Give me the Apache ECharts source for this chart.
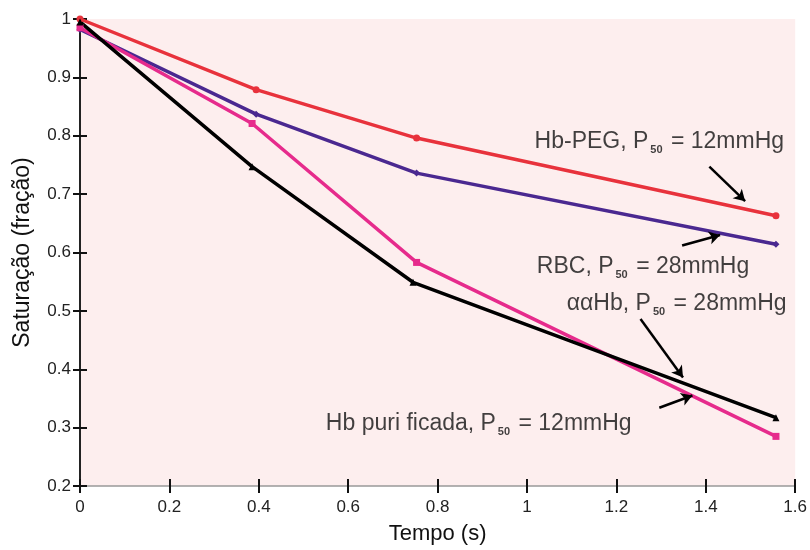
<!DOCTYPE html>
<html>
<head>
<meta charset="utf-8">
<script src="https://cdn.jsdelivr.net/npm/echarts@6/dist/echarts.min.js"></script>
<style>
  html, body { margin: 0; padding: 0; background: #fff; }
  #chart { width: 810px; height: 550px; }
</style>
</head>
<body>
<div id="chart"></div>
<script>
// curves: [tempo (s), saturação]
const hbPeg = [[0, 1.0], [0.394, 0.879], [0.753, 0.796], [1.557, 0.663]];
const rbc = [[0, 0.982], [0.394, 0.837], [0.753, 0.736], [1.557, 0.614]];
const aaHb = [[0, 0.985], [0.385, 0.821], [0.753, 0.583], [1.557, 0.285]];
const hbPur = [[0, 0.995], [0.385, 0.747], [0.745, 0.549], [1.557, 0.317]];

// annotation anchors (data coords) and their texts
const noteAnchors = [[1.017, 0.79], [1.022, 0.575], [1.089, 0.512], [0.55, 0.307]];
const noteTexts = [
  ["Hb-PEG, P", "50", " = 12mmHg"],
  ["RBC, P", "50", " = 28mmHg"],
  ["\u03b1\u03b1Hb, P", "50", " = 28mmHg"],
  ["Hb puri ficada, P", "50", " = 12mmHg"]
];
// arrows: [from, to]
const arrows = [
  [[1.408, 0.747], [1.488, 0.688]],
  [[1.347, 0.612], [1.432, 0.630]],
  [[1.254, 0.486], [1.349, 0.386]],
  [[1.296, 0.334], [1.370, 0.355]]
];

const xTicks = { min: 0, max: 1.6, interval: 0.2 };
const yTicks = { min: 0.2, max: 1, interval: 0.1 };

const font = "Liberation Sans, Arial, sans-serif";
const chart = echarts.init(document.getElementById("chart"));

function curve(name, data, color, symbol) {
  return {
    name: name,
    type: "line",
    data: data,
    symbol: symbol,
    symbolSize: 7,
    lineStyle: { color: color, width: 3.5 },
    itemStyle: { color: color },
    animation: false
  };
}

const option = {
  animation: false,
  grid: {
    left: 80, right: 13, top: 19, bottom: 59,
    show: true, backgroundColor: "#fdeeee", borderWidth: 0
  },
  xAxis: [
    {
      type: "value", ...xTicks, position: "bottom",
      name: "Tempo (s)", nameLocation: "middle", nameGap: 37,
      nameTextStyle: { fontFamily: font, fontSize: 22, color: "#111" },
      axisLine: { lineStyle: { color: "#999", width: 1.5 } },
      axisTick: { inside: false, length: 7, lineStyle: { color: "#111", width: 2 } },
      axisLabel: {
        fontFamily: font, fontSize: 17, color: "#222", margin: 13,
        formatter: (v) => String(+v.toFixed(1))
      },
      splitLine: { show: false }
    },
    {
      type: "value", ...xTicks, position: "bottom",
      axisLine: { show: false },
      axisTick: { inside: true, length: 7, lineStyle: { color: "#111", width: 2 } },
      axisLabel: { show: false },
      splitLine: { show: false }
    }
  ],
  yAxis: [
    {
      type: "value", ...yTicks, position: "left",
      name: "Saturação (fração)", nameLocation: "middle", nameGap: 46,
      nameTextStyle: { fontFamily: font, fontSize: 23, color: "#111" },
      axisLine: { show: true, lineStyle: { color: "#222", width: 2 } },
      axisTick: { show: true, inside: false, length: 7, lineStyle: { color: "#111", width: 2 } },
      axisLabel: {
        fontFamily: font, fontSize: 17, color: "#222", margin: 9,
        formatter: (v) => String(+v.toFixed(1))
      },
      splitLine: { show: false }
    },
    {
      type: "value", ...yTicks, position: "left",
      axisLine: { show: false },
      axisTick: { show: true, inside: true, length: 7, lineStyle: { color: "#111", width: 2 } },
      axisLabel: { show: false },
      splitLine: { show: false }
    }
  ],
  series: [
    curve("Hb-PEG", hbPeg, "#e8323c", "circle"),
    curve("RBC", rbc, "#4a2890", "diamond"),
    curve("ααHb", aaHb, "#e62b8c", "rect"),
    Object.assign(curve("Hb purificada", hbPur, "#000000", "triangle"), {
      markLine: {
        silent: true,
        symbol: ["none", "arrow"],
        symbolSize: [10, 11],
        label: { show: false },
        lineStyle: { color: "#000", width: 2.5, type: "solid" },
        data: arrows.map((a) => [{ coord: a[0] }, { coord: a[1] }])
      }
    }),
    {
      type: "scatter",
      data: noteAnchors,
      symbolSize: 0,
      silent: true,
      label: {
        show: true,
        position: "right",
        distance: 0,
        formatter: (p) => {
          const t = noteTexts[p.dataIndex];
          return "{a|" + t[0] + "}{s|" + t[1] + "}{a|" + t[2] + "}";
        },
        rich: {
          a: { fontFamily: font, fontSize: 23, color: "#111" },
          s: { fontFamily: font, fontSize: 11, fontWeight: "bold", color: "#111", padding: [16, 2, 0, 2] }
        }
      }
    }
  ]
};

chart.setOption(option);
</script>
</body>
</html>
